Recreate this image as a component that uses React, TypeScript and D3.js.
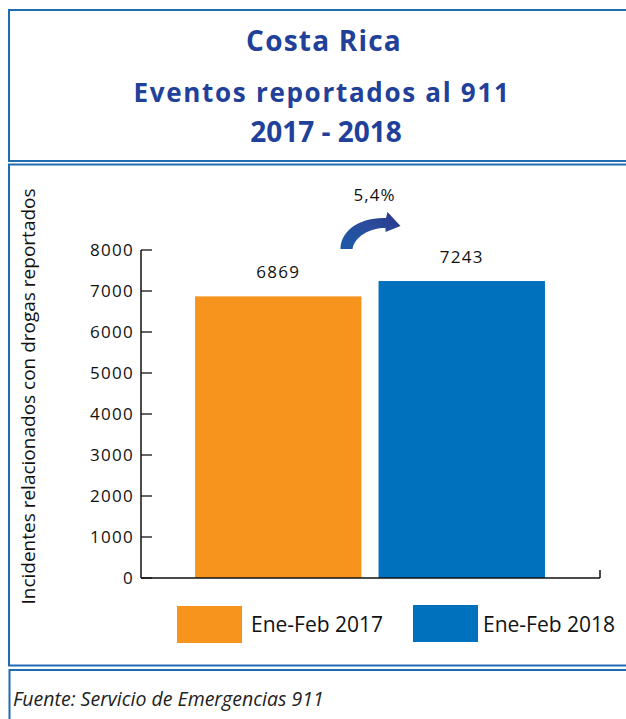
import React from "react";
import * as d3 from "d3";

const categories = ["Ene-Feb 2017", "Ene-Feb 2018"];
const values = [6869, 7243];
const colors = ["#F7941E", "#0071BC"];
const yTicks = [0, 1000, 2000, 3000, 4000, 5000, 6000, 7000, 8000];
const titleLines = ["Costa Rica", "Eventos reportados al 911", "2017 - 2018"];
const yAxisLabel = "Incidentes relacionados con drogas reportados";
const sourceText = "Fuente: Servicio de Emergencias 911";

const W = 626;
const H = 719;
const border = "#1F6DB0";
const titleColor = "#21409A";
const sans = "'Open Sans', 'Noto Sans', sans-serif";
const titleFont = "'Open Sans', 'Noto Sans', sans-serif";

export default function App() {
  const y = d3.scaleLinear().domain([0, 8000]).range([578, 250]);
  const x = d3
    .scaleBand<string>()
    .domain(categories)
    .range([140, 600])
    .paddingInner(0.093)
    .paddingOuter(0.3);
  const bw = x.bandwidth();
  const x0 = 141;
  const xEnd = 600;

  const pct = ((values[1] - values[0]) / values[0]) * 100;
  const pctLabel = d3.format(".1f")(pct).replace(".", ",") + "%";
  const mid = ((x(categories[0]) as number) + bw + (x(categories[1]) as number)) / 2;
  const ab = y(8000) - 1; // arrow base

  const arrowPath = `M${mid - 29.5},${ab}
    C${mid - 29.5},${ab - 17} ${mid - 12},${ab - 32} ${mid + 16},${ab - 31}
    L${mid + 17.5},${ab - 37}
    L${mid + 30.5},${ab - 23}
    L${mid + 15.5},${ab - 17}
    L${mid + 15.5},${ab - 21}
    C${mid},${ab - 21} ${mid - 15},${ab - 13} ${mid - 17.5},${ab} Z`;

  const legendItems = [
    { rx: 177, ry: 606, tx: 251 },
    { rx: 413, ry: 605, tx: 483 },
  ];

  return (
    <svg
      width={W}
      height={H}
      style={{ position: "absolute", left: 0, top: 0, background: "#fff" }}
    >
      <defs>
        <linearGradient id="arrowGrad" x1="0" y1="1" x2="1" y2="0">
          <stop offset="0%" stopColor="#1A5AA8" />
          <stop offset="55%" stopColor="#2A4C9C" />
          <stop offset="100%" stopColor="#2B3589" />
        </linearGradient>
      </defs>

      {/* boxes */}
      <rect x={9} y={10} width={700} height={151} fill="none" stroke={border} strokeWidth={2} />
      <rect x={9} y={164.5} width={700} height={501} fill="none" stroke={border} strokeWidth={2} />
      <rect x={9.5} y={670} width={700} height={100} fill="none" stroke={border} strokeWidth={2} />

      {/* titles */}
      <text x={324} y={51} textAnchor="middle" fill={titleColor} fontFamily={titleFont} fontWeight={700} fontSize={28} letterSpacing={1.2}>
        {titleLines[0]}
      </text>
      <text x={322} y={102} textAnchor="middle" fill={titleColor} fontFamily={titleFont} fontWeight={700} fontSize={26} letterSpacing={1.7}>
        {titleLines[1]}
      </text>
      <text x={326} y={142} textAnchor="middle" fill={titleColor} fontFamily={titleFont} fontWeight={700} fontSize={28}>
        {titleLines[2]}
      </text>

      {/* y axis label */}
      <text
        transform={`translate(35, 396.5) rotate(-90)`}
        textAnchor="middle"
        fontFamily={sans}
        fontSize={19}
        fill="#111"
      >
        {yAxisLabel}
      </text>

      {/* bars */}
      {categories.map((c, i) => (
        <rect
          key={c}
          x={x(c)}
          y={y(values[i])}
          width={bw}
          height={y(0) - y(values[i])}
          fill={colors[i]}
        />
      ))}

      {/* value labels */}
      {categories.map((c, i) => (
        <text
          key={c}
          x={(x(c) as number) + bw / 2}
          y={y(values[i]) - 18}
          textAnchor="middle"
          fontFamily={sans}
          fontSize={17}
          letterSpacing={1.3}
          fill="#111"
        >
          {values[i]}
        </text>
      ))}

      {/* y axis */}
      {yTicks.map((t) => (
        <g key={t}>
          <line x1={x0} x2={x0 + 11} y1={y(t)} y2={y(t)} stroke="#333" strokeWidth={1.5} />
          <text
            x={134}
            y={y(t)}
            dy="0.36em"
            textAnchor="end"
            fontFamily={sans}
            fontSize={17}
            letterSpacing={1.3}
            fill="#111"
          >
            {t}
          </text>
        </g>
      ))}
      <line x1={x0} x2={x0} y1={y(8000)} y2={y(0)} stroke="#111" strokeWidth={1.5} />
      <line x1={x0} x2={xEnd} y1={y(0)} y2={y(0)} stroke="#111" strokeWidth={1.5} />
      <line x1={xEnd} x2={xEnd} y1={y(0)} y2={y(0) - 8} stroke="#111" strokeWidth={1.5} />

      {/* change arrow */}
      <path d={arrowPath} fill="url(#arrowGrad)" />
      <text x={mid + 4.5} y={ab - 48} textAnchor="middle" fontFamily={sans} fontSize={17} letterSpacing={1} fill="#111">
        {pctLabel}
      </text>

      {/* legend */}
      {categories.map((c, i) => (
        <g key={c}>
          <rect x={legendItems[i].rx} y={legendItems[i].ry} width={65} height={37} fill={colors[i]} />
          <text x={legendItems[i].tx} y={632} fontFamily={sans} fontSize={21} fill="#111">
            {c}
          </text>
        </g>
      ))}

      {/* source */}
      <text x={13} y={706} fontFamily={sans} fontStyle="italic" fontSize={19.5} fill="#222">
        {sourceText}
      </text>
    </svg>
  );
}
